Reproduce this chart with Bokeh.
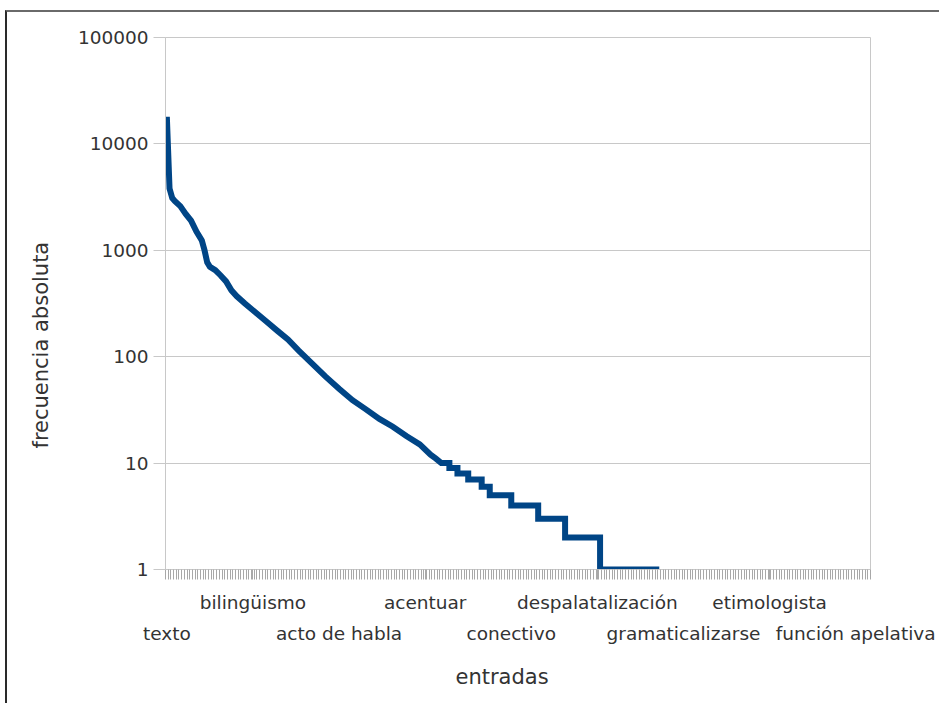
import math
from bokeh.plotting import figure
from bokeh.models import Range1d, FixedTicker, LinearAxis, NumeralTickFormatter, Title
from bokeh.embed import file_html
from bokeh.resources import INLINE

# ---- data (rank of entry -> absolute frequency) ----
ranks = [1, 2, 3, 4, 6, 8, 10, 12, 14, 15,
         16, 17, 19, 21, 23, 25, 27, 30, 34, 38,
         42, 46, 50, 55, 60, 65, 70, 75, 80, 85,
         90, 95, 99, 101, 103,
         106, 106, 109, 109, 113, 113, 118, 118, 121, 121,
         129, 129, 139, 139, 149, 149, 162, 162, 184]
freqs = [18000, 3800, 3100, 2900, 2600, 2200, 1900, 1500, 1240, 1000,
         770, 700, 650, 580, 510, 420, 370, 316, 260, 214,
         176, 145, 114, 86, 65, 50, 39, 32, 26, 22,
         18, 15, 12, 11, 10,
         10, 9, 9, 8, 8, 7, 7, 6, 6, 5,
         5, 4, 4, 3, 3, 2, 2, 1, 1]

n_entries = 262
label_ranks = [1, 33, 65, 97, 129, 161, 193, 225, 257]
label_words = ["texto", "bilingüismo", "acto de habla", "acentuar", "conectivo",
               "despalatalización", "gramaticalizarse", "etimologista", "función apelativa"]
ytick_vals = [1, 10, 100, 1000, 10000, 100000]

FONT = "DejaVu Sans"
TXT = "#333333"
GRID = "#c8c8c8"
TICK = "#a8a8a8"

p = figure(width=934, height=693, y_axis_type="log",
           x_range=Range1d(0.5, n_entries + 0.5), y_range=Range1d(1, 100000),
           output_backend="svg", toolbar_location=None, x_axis_location=None,
           min_border_left=158, min_border_right=71, min_border_top=25, min_border_bottom=136)
p.styles = {"margin-left": "5px", "margin-top": "10px",
            "border-top": "2px solid #6a6a6a", "border-left": "2px solid #2a2a2a"}
p.outline_line_color = GRID
p.background_fill_color = "white"
p.border_fill_color = "white"

p.line(ranks, freqs, line_color="#004586", line_width=6, line_join="miter")

# y axis
ya = p.yaxis[0]
ya.ticker = FixedTicker(ticks=ytick_vals, minor_ticks=[])
ya.formatter = NumeralTickFormatter(format="0")
ya.major_tick_out = 12
ya.major_tick_in = 0
ya.major_tick_line_color = GRID
ya.axis_line_color = GRID
ya.major_label_standoff = 5
ya.major_label_text_font = FONT
ya.major_label_text_font_size = "18.5px"
ya.major_label_text_color = TXT
p.ygrid.ticker = FixedTicker(ticks=ytick_vals)
p.ygrid.grid_line_color = GRID
p.xgrid.visible = False

upper = label_ranks[1::2]
lower = label_ranks[0::2]
overrides = {r: w for r, w in zip(label_ranks, label_words)}
boundaries = [i + 0.5 for i in range(n_entries + 1)]

ax1 = LinearAxis(ticker=FixedTicker(ticks=upper, minor_ticks=boundaries),
                 major_label_overrides={r: overrides[r] for r in upper})
ax1.major_tick_out = 10
ax1.major_tick_in = 0
ax1.minor_tick_out = 10
ax1.minor_tick_in = 0
ax1.major_tick_line_color = TICK
ax1.minor_tick_line_color = TICK
ax1.axis_line_color = GRID
ax1.major_label_standoff = 12
ax1.major_label_text_font = FONT
ax1.major_label_text_font_size = "18.5px"
ax1.major_label_text_color = TXT
p.add_layout(ax1, "below")

ax2 = LinearAxis(ticker=FixedTicker(ticks=lower, minor_ticks=[]),
                 major_label_overrides={r: overrides[r] for r in lower})
ax2.major_tick_out = 0
ax2.major_tick_in = 0
ax2.minor_tick_out = 0
ax2.minor_tick_in = 0
ax2.axis_line_color = None
ax2.major_tick_line_color = None
ax2.major_label_standoff = 7
ax2.major_label_text_font = FONT
ax2.major_label_text_font_size = "18.5px"
ax2.major_label_text_color = TXT
p.add_layout(ax2, "below")

ytitle = Title(text="frecuencia absoluta", align="left", vertical_align="top", offset=121, standoff=40,
               text_font=FONT, text_font_size="21px", text_color=TXT, text_font_style="normal")
xtitle = Title(text="entradas", align="left", offset=290, standoff=33,
               text_font=FONT, text_font_size="21px", text_color=TXT, text_font_style="normal")
p.add_layout(ytitle, "left")
p.add_layout(xtitle, "below")

open("out.html", "w").write(file_html(p, INLINE))
